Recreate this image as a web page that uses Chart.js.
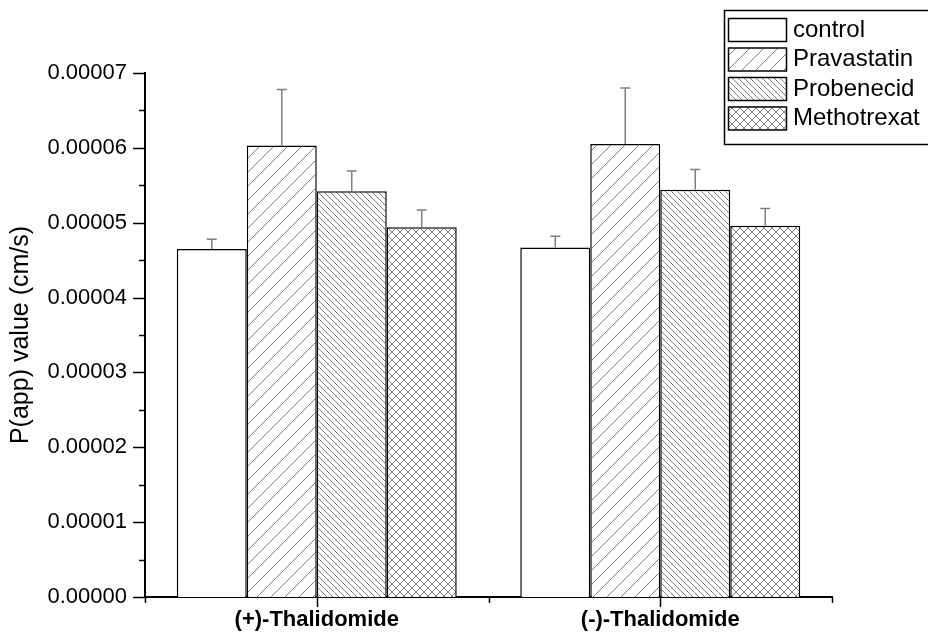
<!DOCTYPE html>
<html>
<head>
<meta charset="utf-8">
<script src="https://cdn.jsdelivr.net/npm/chart.js@4"></script>
<style>
  html, body { margin: 0; padding: 0; background: #fff; }
  canvas { display: block; }
</style>
</head>
<body>
<canvas id="myChart" width="928" height="635"></canvas>
<script>
// datos
const categories = ['(+)-Thalidomide', '(-)-Thalidomide'];
const seriesNames = ['control', 'Pravastatin', 'Probenecid', 'Methotrexat'];
const control = [0.0000465, 0.0000467];
const pravastatin = [0.0000603, 0.0000605];
const probenecid = [0.0000542, 0.0000544];
const methotrexat = [0.0000494, 0.0000496];
const controlErr = [0.0000013, 0.0000015];
const pravastatinErr = [0.0000075, 0.0000075];
const probenecidErr = [0.0000027, 0.0000027];
const methotrexatErr = [0.0000023, 0.0000023];
const yTicks = [0, 0.00001, 0.00002, 0.00003, 0.00004, 0.00005, 0.00006, 0.00007];

const FONT = '"Liberation Sans", Arial, sans-serif';

// patrones de relleno (rayado)
function makePattern(kind, p) {
    const c = document.createElement('canvas');
    c.width = p; c.height = p;
    const g = c.getContext('2d');
    g.fillStyle = '#fff';
    g.fillRect(0, 0, p, p);
    g.strokeStyle = '#808080';
    g.lineWidth = 1;
    const fwd = () => {
        g.beginPath();
        g.moveTo(-1, p + 1); g.lineTo(p + 1, -1);
        g.moveTo(-1, 1); g.lineTo(1, -1);
        g.moveTo(p - 1, p + 1); g.lineTo(p + 1, p - 1);
        g.stroke();
    };
    const back = () => {
        g.beginPath();
        g.moveTo(-1, -1); g.lineTo(p + 1, p + 1);
        g.moveTo(p - 1, -1); g.lineTo(p + 1, 1);
        g.moveTo(-1, p - 1); g.lineTo(1, p + 1);
        g.stroke();
    };
    if (kind === 'fwd') fwd();
    if (kind === 'back') back();
    if (kind === 'cross') { fwd(); back(); }
    return document.getElementById('myChart').getContext('2d').createPattern(c, 'repeat');
}

const fills = ['#ffffff', makePattern('fwd', 14), makePattern('back', 6), makePattern('cross', 8)];
const values = [control, pravastatin, probenecid, methotrexat];
const errors = [controlErr, pravastatinErr, probenecidErr, methotrexatErr];

// barras de error, ticks menores y leyenda
const extras = {
    id: 'extras',
    afterDatasetsDraw(chart) {
        const ctx = chart.ctx;
        const y = chart.scales.y;
        ctx.save();
        ctx.strokeStyle = '#808080';
        ctx.lineWidth = 1.5;
        values.forEach((vals, i) => {
            const meta = chart.getDatasetMeta(i);
            meta.data.forEach((bar, j) => {
                const top = y.getPixelForValue(vals[j] + errors[i][j]);
                ctx.beginPath();
                ctx.moveTo(bar.x, bar.y);
                ctx.lineTo(bar.x, top);
                ctx.moveTo(bar.x - 5, top);
                ctx.lineTo(bar.x + 5, top);
                ctx.stroke();
            });
        });
        ctx.restore();
    },
    afterDraw(chart) {
        const ctx = chart.ctx;
        const x = chart.scales.x;
        const y = chart.scales.y;
        const area = chart.chartArea;
        ctx.save();
        ctx.strokeStyle = '#000';
        ctx.lineWidth = 1.5;
        // ticks eje y
        yTicks.forEach((v, k) => {
            const py = Math.round(y.getPixelForValue(v)) + 0.5;
            ctx.beginPath();
            ctx.moveTo(area.left - 12, py);
            ctx.lineTo(area.left, py);
            ctx.stroke();
            if (k < yTicks.length - 1) {
                const pm = Math.round(y.getPixelForValue(v + 0.000005)) + 0.5;
                ctx.beginPath();
                ctx.moveTo(area.left - 6, pm);
                ctx.lineTo(area.left, pm);
                ctx.stroke();
            }
        });
        // ticks eje x
        categories.forEach((c, k) => {
            const px = Math.round(x.getPixelForTick(k)) + 0.5;
            ctx.beginPath();
            ctx.moveTo(px, area.bottom);
            ctx.lineTo(px, area.bottom + 10);
            ctx.stroke();
        });
        const half = (x.getPixelForTick(1) - x.getPixelForTick(0)) / 2;
        [x.getPixelForTick(0) - half, x.getPixelForTick(0) + half, x.getPixelForTick(1) + half].forEach(px => {
            px = Math.round(px) + 0.5;
            ctx.beginPath();
            ctx.moveTo(px, area.bottom);
            ctx.lineTo(px, area.bottom + 6);
            ctx.stroke();
        });

        // leyenda
        ctx.lineWidth = 1.5;
        ctx.fillStyle = '#fff';
        ctx.fillRect(724, 10, 220, 134);
        ctx.strokeRect(724.5, 10.5, 220, 134);
        ctx.font = '24px ' + FONT;
        ctx.textBaseline = 'middle';
        ctx.textAlign = 'left';
        chart.data.datasets.forEach((ds, i) => {
            const ty = 18 + i * 29.5;
            ctx.fillStyle = ds.backgroundColor;
            ctx.fillRect(728, ty, 58, 23);
            ctx.lineWidth = 1.5;
            ctx.strokeStyle = '#000';
            ctx.strokeRect(728.5, ty + 0.5, 58, 23);
            ctx.fillStyle = '#000';
            ctx.fillText(ds.label, 793, ty + 12);
        });
        ctx.restore();
    }
};

const ctx = document.getElementById('myChart').getContext('2d');

window.myChart = new Chart(ctx, {
    type: 'bar',
    data: {
        labels: categories,
        datasets: seriesNames.map((name, i) => ({
            label: name,
            data: values[i],
            backgroundColor: fills[i],
            borderColor: '#000',
            borderWidth: 1.5,
            borderSkipped: 'bottom',
            categoryPercentage: 0.815,
            barPercentage: 1.0
        }))
    },
    options: {
        responsive: false,
        animation: false,
        devicePixelRatio: 1,
        layout: {
            padding: { top: 73, right: 96, left: 0, bottom: 0 }
        },
        plugins: {
            legend: { display: false },
            tooltip: { enabled: false }
        },
        scales: {
            x: {
                grid: { display: false, drawTicks: false },
                border: { display: true, color: '#000', width: 2 },
                ticks: {
                    color: '#000',
                    padding: 10,
                    font: { family: FONT, size: 22, weight: 'bold' }
                },
                afterFit(scale) { scale.height = 38; }
            },
            y: {
                min: 0,
                max: 0.00007,
                grid: { display: false, drawTicks: false },
                border: { display: true, color: '#000', width: 2 },
                ticks: {
                    stepSize: 0.00001,
                    color: '#000',
                    padding: 18,
                    font: { family: FONT, size: 22 },
                    callback: v => v.toFixed(5)
                },
                title: {
                    display: true,
                    text: 'P(app) value (cm/s)',
                    color: '#000',
                    font: { family: FONT, size: 25 },
                    padding: { top: 6, bottom: 0 }
                },
                afterFit(scale) { scale.width = 145; }
            }
        }
    },
    plugins: [extras]
});
</script>
</body>
</html>
